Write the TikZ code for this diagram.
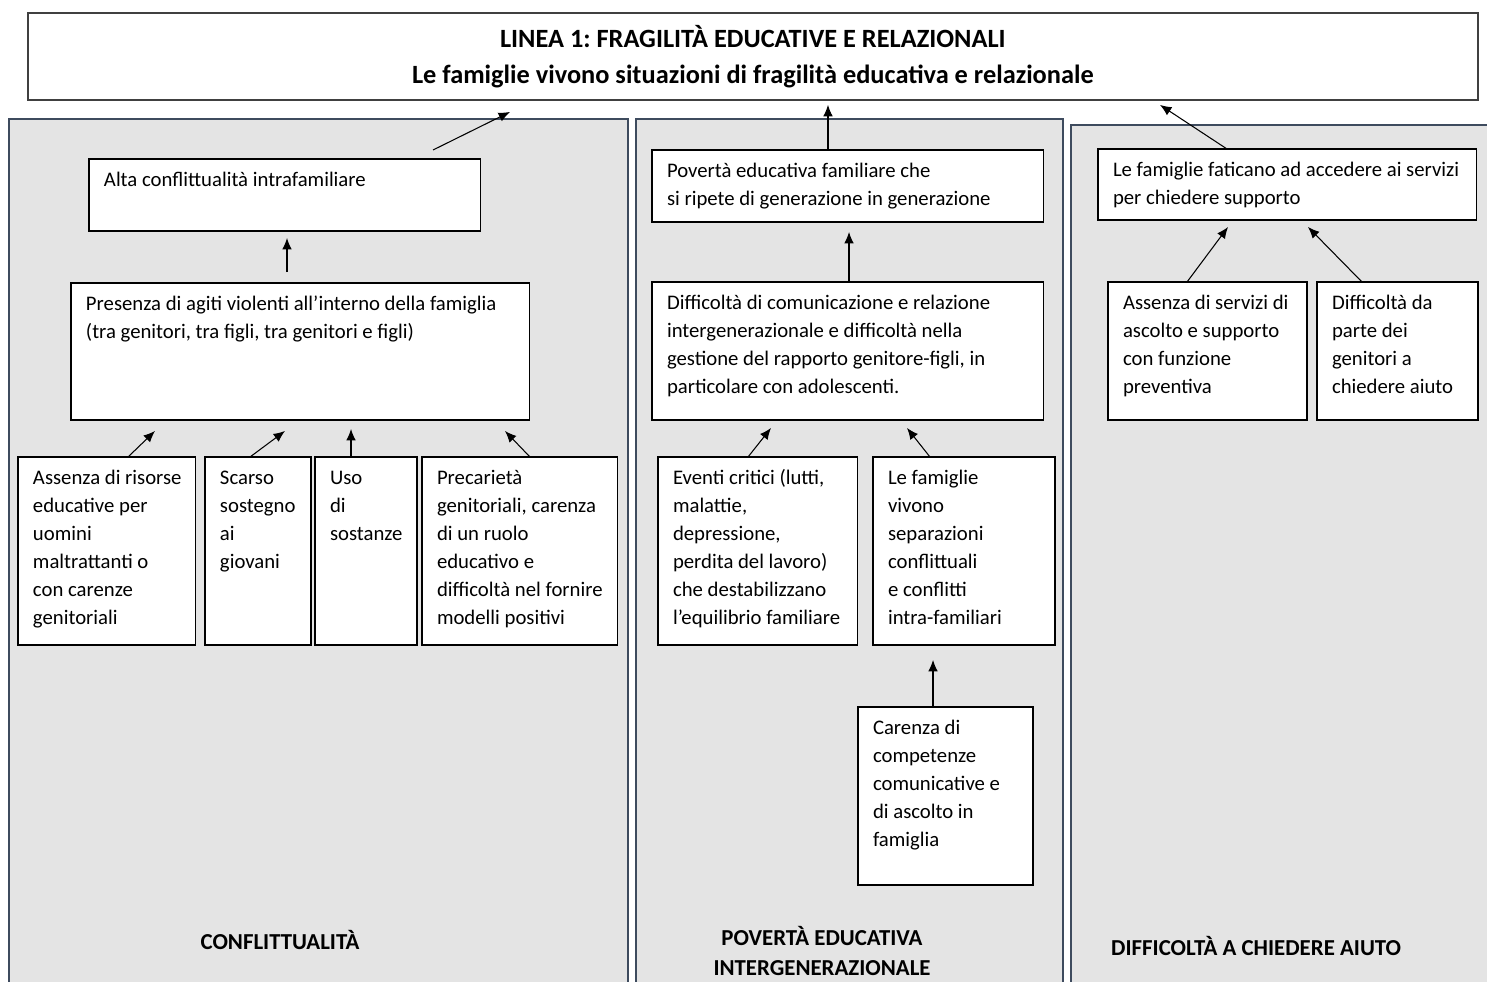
\documentclass[tikz,border=0pt]{standalone}
\usepackage{fontspec}
\setmainfont{Carlito}
\usepackage{tikz}
\usetikzlibrary{arrows.meta}
\usetikzlibrary{calc}
\frenchspacing

\definecolor{panelfill}{RGB}{228,228,228}
\definecolor{panelline}{RGB}{62,75,94}
\definecolor{titleline}{RGB}{64,64,64}

\newcommand{\celltext}[3]{\parbox[t][#2][t]{#1}{\begin{tabular}[t]{@{}l@{}}#3\end{tabular}}}

\tikzset{
  panel/.style={draw=panelline, line width=0.9pt, fill=panelfill},
  cell/.style={draw=black, line width=0.6pt, fill=white, anchor=north west,
    inner xsep=0.3cm, inner ysep=0.16cm, outer sep=0pt},
  arr/.style={-{Latex[length=6.5pt,width=5.5pt]}, line width=0.6pt},
  tag/.style={font=\fontsize{13}{17}\selectfont\bfseries, align=center}
}

\begin{document}
\begin{tikzpicture}[x=0.02cm, y=-0.02cm, font=\fontsize{11.8}{15.9}\selectfont]
		\clip (0,0) rectangle (1487,981);
		\fill[white] (0,0) rectangle (1487,981);

		% the three panels
		\draw[panel] (9,119) rectangle (628,1000);
		\draw[panel] (636,119) rectangle (1063,1000);
		\draw[panel] (1071,125) rectangle (1500,1000);

		\node[draw=titleline, line width=1.1pt, fill=white, anchor=north west,
			minimum width=29cm, minimum height=1.74cm, align=center,
			font=\fontsize{15}{20.5}\selectfont\bfseries] (linea) at (27,12)
			{LINEA 1: FRAGILITÀ EDUCATIVE E RELAZIONALI\\Le famiglie vivono situazioni di fragilità educativa e relazionale};

		% conflittualita
		\node[cell] (alta) at (89,159) {\celltext{7.24cm}{1.12cm}{Alta conflittualità intrafamiliare}};
		\node[cell] (presenza) at (71,283) {\celltext{8.58cm}{2.42cm}{Presenza di agiti violenti all’interno della famiglia\\(tra genitori, tra figli, tra genitori e figli)}};
		\node[cell] (risorse) at (18,457) {\celltext{2.96cm}{3.44cm}{Assenza di risorse\\educative per\\uomini\\maltrattanti o\\con carenze\\genitoriali}};
		\node[cell] (scarso) at (205,457) {\celltext{1.52cm}{3.44cm}{Scarso\\sostegno\\ai\\giovani}};
		\node[cell] (uso) at (315,457) {\celltext{1.44cm}{3.44cm}{Uso\\di\\sostanze}};
		\node[cell] (precar) at (422,457) {\celltext{3.32cm}{3.44cm}{Precarietà\\genitoriali, carenza\\di un ruolo\\educativo e\\difficoltà nel fornire\\modelli positivi}};
		\node[tag] (lblconf) at (280,940) {CONFLITTUALITÀ};

		\draw[arr] ($(risorse.north west)+(110,0)$) -- ($(presenza.south west)+(84,11)$);
		\draw[arr] ($(scarso.north west)+(45,0)$) -- ($(presenza.south west)+(214,11)$);
		\draw[arr] ($(uso.north west)+(36,0)$) -- ($(presenza.south west)+(280,9)$);
		\draw[arr] ($(precar.north west)+(108,0)$) -- ($(presenza.south west)+(434,11)$);
		\draw[arr] ($(presenza.north west)+(216,-11)$) -- ($(alta.south west)+(198,7)$);
		\draw[arr] ($(alta.north west)+(344,-9)$) -- ($(linea.south west)+(483,11)$);

		% poverta educativa
		\node[cell] (poverta) at (652,150) {\celltext{7.24cm}{1.12cm}{Povertà educativa familiare che\\si ripete di generazione in generazione}};
		\node[cell] (comunic) at (652,282) {\celltext{7.24cm}{2.44cm}{Difficoltà di comunicazione e relazione\\intergenerazionale e difficoltà nella\\gestione del rapporto genitore-figli, in\\particolare con adolescenti.}};
		\node[cell] (eventi) at (658,457) {\celltext{3.4cm}{3.44cm}{Eventi critici (lutti,\\malattie,\\depressione,\\perdita del lavoro)\\che destabilizzano\\l’equilibrio familiare}};
		\node[cell] (separ) at (873,457) {\celltext{3.04cm}{3.44cm}{Le famiglie\\vivono\\separazioni\\conflittuali\\e conflitti\\intra-familiari}};
		\node[cell] (carenza) at (858,707) {\celltext{2.9cm}{3.24cm}{Carenza di\\competenze\\comunicative e\\di ascolto in\\famiglia}};
		\node[tag] (lblpov) at (822,951) {POVERTÀ EDUCATIVA\\INTERGENERAZIONALE};

		\draw[arr] ($(poverta.north west)+(176,0)$) -- ($(linea.south west)+(801,4)$);
		\draw[arr] ($(comunic.north west)+(197,0)$) -- ($(poverta.south west)+(197,10)$);
		\draw[arr] ($(eventi.north west)+(90,0)$) -- ($(comunic.south west)+(119,8)$);
		\draw[arr] ($(separ.north west)+(57,0)$) -- ($(comunic.south west)+(255,8)$);
		\draw[arr] ($(carenza.north west)+(75,0)$) -- ($(separ.south west)+(60,15)$);

		% difficolta a chiedere aiuto
		\node[cell] (faticano) at (1098,149) {\celltext{6.98cm}{1.10cm}{Le famiglie faticano ad accedere ai servizi\\per chiedere supporto}};
		\node[cell] (servizi) at (1108,282) {\celltext{3.38cm}{2.44cm}{Assenza di servizi di\\ascolto e supporto\\con funzione\\preventiva}};
		\node[cell] (aiuto) at (1317,282) {\celltext{2.62cm}{2.44cm}{Difficoltà da\\parte dei\\genitori a\\chiedere aiuto}};
		\node[tag, anchor=west] (lblaiuto) at (1105,946) {DIFFICOLTÀ A CHIEDERE AIUTO};

		\draw[arr] ($(faticano.north west)+(129,0)$) -- ($(linea.south west)+(1133,4)$);
		\draw[arr] ($(servizi.north west)+(79,0)$) -- ($(faticano.south west)+(130,7)$);
		\draw[arr] ($(aiuto.north west)+(45,0)$) -- ($(faticano.south west)+(210,7)$);
	\end{tikzpicture}
\end{document}
